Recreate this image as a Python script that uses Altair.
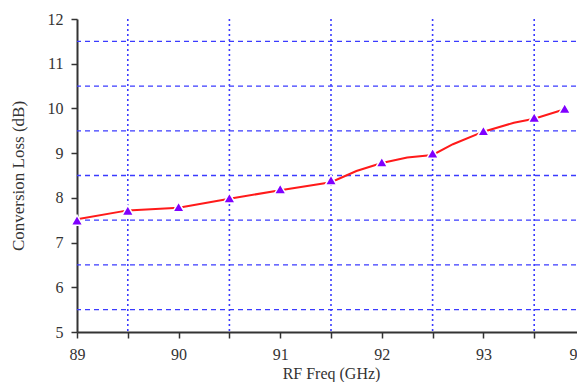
import altair as alt
import pandas as pd

# marker series
mk_freq = [89.0, 89.5, 90.0, 90.5, 91.0, 91.5, 92.0, 92.5, 93.0, 93.5, 93.8]
mk_loss = [7.5, 7.72, 7.8, 8.0, 8.2, 8.4, 8.8, 9.0, 9.5, 9.8, 10.0]

# red line series
ln_freq = [89.0, 89.5, 90.0, 90.5, 91.0, 91.5, 91.75, 92.0, 92.25, 92.5, 92.7, 93.0, 93.3, 93.5, 93.8]
ln_loss = [7.52, 7.72, 7.78, 7.98, 8.17, 8.35, 8.6, 8.78, 8.9, 8.96, 9.2, 9.48, 9.68, 9.77, 9.98]

vgrid = [89.5, 90.5, 91.5, 92.5, 93.5]
hgrid = [5.5, 6.5, 7.5, 8.5, 9.5, 10.5, 11.5]
x_ticks = [89, 89.5, 90, 90.5, 91, 91.5, 92, 92.5, 93, 93.5, 94]
y_ticks = [5, 6, 7, 8, 9, 10, 11, 12]

FONT = "Liberation Serif"
GRID = "#3b3bff"
NBSP = "\u00a0"

xs = alt.Scale(domain=[89, 94], nice=False, zero=False)
ys = alt.Scale(domain=[5, 12], nice=False, zero=False)

x_axis = alt.Axis(values=x_ticks,
                  labelExpr=("datum.value == 94 ? '94" + NBSP + "' : "
                             "(datum.value % 1 == 0 ? format(datum.value, 'd') : '')"),
                  labelAlign={"expr": "datum.value == 94 ? 'right' : 'center'"},
                  title="RF Freq (GHz)", grid=False, tickSize=6, tickColor="#333",
                  domainColor="#333", domainWidth=2, tickWidth=1.5, labelFlush=False,
                  labelOverlap=False,
                  labelFont=FONT, labelFontSize=16, labelColor="#333", labelPadding=8,
                  titleFont=FONT, titleFontSize=16, titleFontWeight="normal",
                  titleColor="#333", titlePadding=3)
y_axis = alt.Axis(values=y_ticks, title="Conversion Loss (dB)", grid=False, tickSize=6,
                  tickColor="#333", domainColor="#333", domainWidth=2, tickWidth=1.5,
                  labelFont=FONT, labelFontSize=16, labelColor="#333", labelPadding=8,
                  titleFont=FONT, titleFontSize=17, titleFontWeight="normal",
                  titleColor="#333", titlePadding=20)

vdf = pd.DataFrame({"x": vgrid})
hdf = pd.DataFrame({"y": hgrid})
ldf = pd.DataFrame({"freq": ln_freq, "loss": ln_loss})
mdf = pd.DataFrame({"freq": mk_freq, "loss": mk_loss})

vrules = alt.Chart(vdf).mark_rule(color=GRID, strokeWidth=1.6, strokeDash=[2, 3]).encode(
    x=alt.X("x:Q", scale=xs, axis=x_axis))
hrules = alt.Chart(hdf).mark_rule(color=GRID, strokeWidth=1.3, strokeDash=[5, 4]).encode(
    y=alt.Y("y:Q", scale=ys, axis=y_axis))
line = alt.Chart(ldf).mark_line(color="#ff1a1a", strokeWidth=2).encode(
    x=alt.X("freq:Q", scale=xs), y=alt.Y("loss:Q", scale=ys))
pts = alt.Chart(mdf).mark_point(shape="triangle-up", filled=True, size=135, color="#7f00ff",
                                stroke="white", strokeWidth=1.5, opacity=1).encode(
    x=alt.X("freq:Q", scale=xs), y=alt.Y("loss:Q", scale=ys))
# faint legend-frame edge at the top right
frame = alt.Chart(pd.DataFrame({"k": [0]})).mark_rule(color="#bbbbbb", strokeWidth=1).encode(
    x=alt.value(406), x2=alt.value(508), y=alt.value(-12))

chart = alt.layer(vrules, hrules, line, pts, frame).properties(
    width=508, height=313,
    autosize=alt.AutoSizeParams(type="none"),
    padding={"left": 69, "top": 11, "right": -8, "bottom": 50},
).configure_view(stroke=None)

chart.save("out.html", embed_options={"renderer": "svg", "actions": False})
